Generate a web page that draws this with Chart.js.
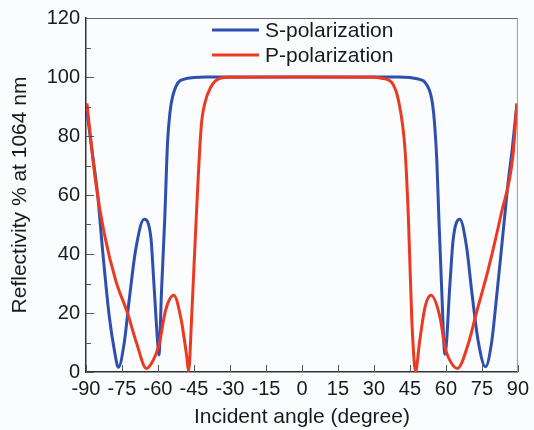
<!DOCTYPE html>
<html>
<head>
<meta charset="utf-8">
<script src="https://cdn.jsdelivr.net/npm/chart.js@4.4.1/dist/chart.umd.min.js"></script>
<style>
  html, body { margin: 0; padding: 0; background: #fbfcfd; }
  canvas { display: block; }
</style>
</head>
<body>
<canvas id="grafico" width="534" height="430"></canvas>
<script>
// ===== DADOS =====
const sAngulos = [-90, -87.5, -85.2, -83.1, -80.3, -78.2, -76.5, -74.1, -72, -69.3, -65.8, -63, -61.7, -60.3, -59.6,
  -58.5, -57.2, -56, -55, -54, -51.7, -49, -45, -40, 0, 40, 45, 49, 51.3, 54.1, 55.2, 56.2, 57.1, 58.2, 59.6,
  61.7, 63, 65.8, 68.6, 70.7, 73.4, 76.5, 79, 81, 83.8, 85.9, 87.7, 89.6];
const sValores = [91, 75, 60.6, 41.4, 18.8, 7.5, 1.6, 9.7, 24.4, 41.4, 51.8, 45.9, 30, 12, 5.8,
  28, 51.5, 78, 88, 93, 98, 99.3, 99.8, 100, 100, 100, 99.8, 99.2, 98.2, 92.5, 85, 72, 51.5, 29, 6,
  30, 44.7, 51.8, 42.5, 27.8, 10.8, 1.8, 9.7, 24.4, 47, 64, 76, 91];

const pAngulos = [-89.6, -87.5, -85.9, -82.4, -77.6, -72.7, -69, -64.8, -62, -59.6, -56.8, -53.4, -50.3, -48.2, -47.2,
  -46, -44.1, -42, -40.5, -37.9, -34.4, -30, 0, 30, 33.2, 36.1, 38, 40.2, 43, 44.4, 45.8, 47.4,
  49, 51.3, 53.8, 57.5, 59.6, 61, 64.8, 69.3, 72.7, 77.6, 83.1, 87.9, 89.6];
const pValores = [91, 75, 64, 47, 31, 20, 10, 1.2, 4, 9, 21, 26, 17.6, 6.4, 0.5,
  18, 51.5, 83, 91, 96.7, 99.5, 99.9, 100, 99.9, 99.6, 99, 97.5, 92.2, 75, 51.5, 17.6, 0.3,
  10, 22, 26, 18.7, 8.6, 5, 1.2, 9.5, 20, 34.6, 53.8, 73, 91];

const xTicks = { min: -90, max: 90, step: 15 };
const yTicks = { min: 0, max: 120, step: 20 };

const AZUL = '#2f4fae';
const VERMELHO = '#ec3a22';
const FONTE = "'Liberation Sans', Arial, sans-serif";

function pares(xs, ys) {
  return xs.map((x, i) => ({ x: x, y: ys[i] }));
}

// ===== MOLDURA, TICKS PARA DENTRO E LEGENDA =====
const moldura = {
  id: 'moldura',
  afterDatasetsDraw(chart) {
    const { ctx, chartArea: a, scales } = chart;
    ctx.save();
    ctx.lineWidth = 1;
    ctx.strokeStyle = '#555';
    // ticks x
    for (let v = xTicks.min; v <= xTicks.max; v += xTicks.step) {
      const px = Math.round(scales.x.getPixelForValue(v)) + 0.5;
      ctx.beginPath();
      ctx.moveTo(px, a.bottom);
      ctx.lineTo(px, a.bottom - 7);
      ctx.stroke();
    }
    // ticks y (maiores e menores)
    for (let v = yTicks.min; v <= yTicks.max; v += yTicks.step / 2) {
      const py = Math.round(scales.y.getPixelForValue(v)) + 0.5;
      const len = (v % yTicks.step === 0) ? 8 : 5;
      ctx.beginPath();
      ctx.moveTo(a.left, py);
      ctx.lineTo(a.left + len, py);
      ctx.stroke();
    }
    // topo e direita
    ctx.strokeStyle = '#666';
    ctx.beginPath();
    ctx.moveTo(a.left, a.top + 0.5);
    ctx.lineTo(a.right, a.top + 0.5);
    ctx.stroke();
    ctx.strokeStyle = '#999';
    ctx.beginPath();
    ctx.moveTo(a.right - 0.5, a.top);
    ctx.lineTo(a.right - 0.5, a.bottom);
    ctx.stroke();

    // legenda dentro do gráfico
    ctx.font = '21px ' + FONTE;
    ctx.textBaseline = 'middle';
    ctx.fillStyle = '#1a1a1a';
    chart.data.datasets.forEach((ds, i) => {
      const y = 30 + i * 25;
      ctx.strokeStyle = ds.borderColor;
      ctx.lineWidth = 3;
      ctx.beginPath();
      ctx.moveTo(212, y);
      ctx.lineTo(259, y);
      ctx.stroke();
      ctx.fillText(ds.label, 265, y + 1);
    });
    ctx.restore();
  }
};

// ===== GRÁFICO =====
const ctx = document.getElementById('grafico').getContext('2d');

new Chart(ctx, {
  type: 'line',
  data: {
    datasets: [{
      label: 'S-polarization',
      data: pares(sAngulos, sValores),
      borderColor: AZUL,
      borderWidth: 3,
      pointRadius: 0,
      order: 2,
      cubicInterpolationMode: 'monotone'
    }, {
      label: 'P-polarization',
      data: pares(pAngulos, pValores),
      borderColor: VERMELHO,
      borderWidth: 3,
      pointRadius: 0,
      order: 1,
      cubicInterpolationMode: 'monotone'
    }]
  },
  options: {
    responsive: false,
    animation: false,
    devicePixelRatio: 1,
    layout: { padding: { left: 0, top: 18, right: 14, bottom: 0 } },
    plugins: { legend: { display: false }, tooltip: { enabled: false } },
    scales: {
      x: {
        type: 'linear',
        min: xTicks.min,
        max: xTicks.max,
        afterFit: s => { s.height = 58; },
        ticks: {
          stepSize: xTicks.step,
          autoSkip: false,
          maxRotation: 0,
          padding: 5,
          color: '#1a1a1a',
          font: { family: FONTE, size: 20 }
        },
        grid: { display: false, drawTicks: false },
        border: { display: true, color: '#333', width: 1.5 },
        title: {
          display: true,
          text: 'Incident angle (degree)',
          color: '#1a1a1a',
          font: { family: FONTE, size: 21 },
          padding: { top: 2, bottom: 0 }
        }
      },
      y: {
        min: yTicks.min,
        max: yTicks.max,
        afterFit: s => { s.width = 86; },
        ticks: {
          stepSize: yTicks.step,
          padding: 6,
          color: '#1a1a1a',
          font: { family: FONTE, size: 20 }
        },
        grid: { display: false, drawTicks: false },
        border: { display: true, color: '#333', width: 1.5 },
        title: {
          display: true,
          text: 'Reflectivity % at 1064 nm',
          color: '#1a1a1a',
          font: { family: FONTE, size: 21 },
          padding: { top: 8, bottom: 0 }
        }
      }
    }
  },
  plugins: [moldura]
});
</script>
</body>
</html>
